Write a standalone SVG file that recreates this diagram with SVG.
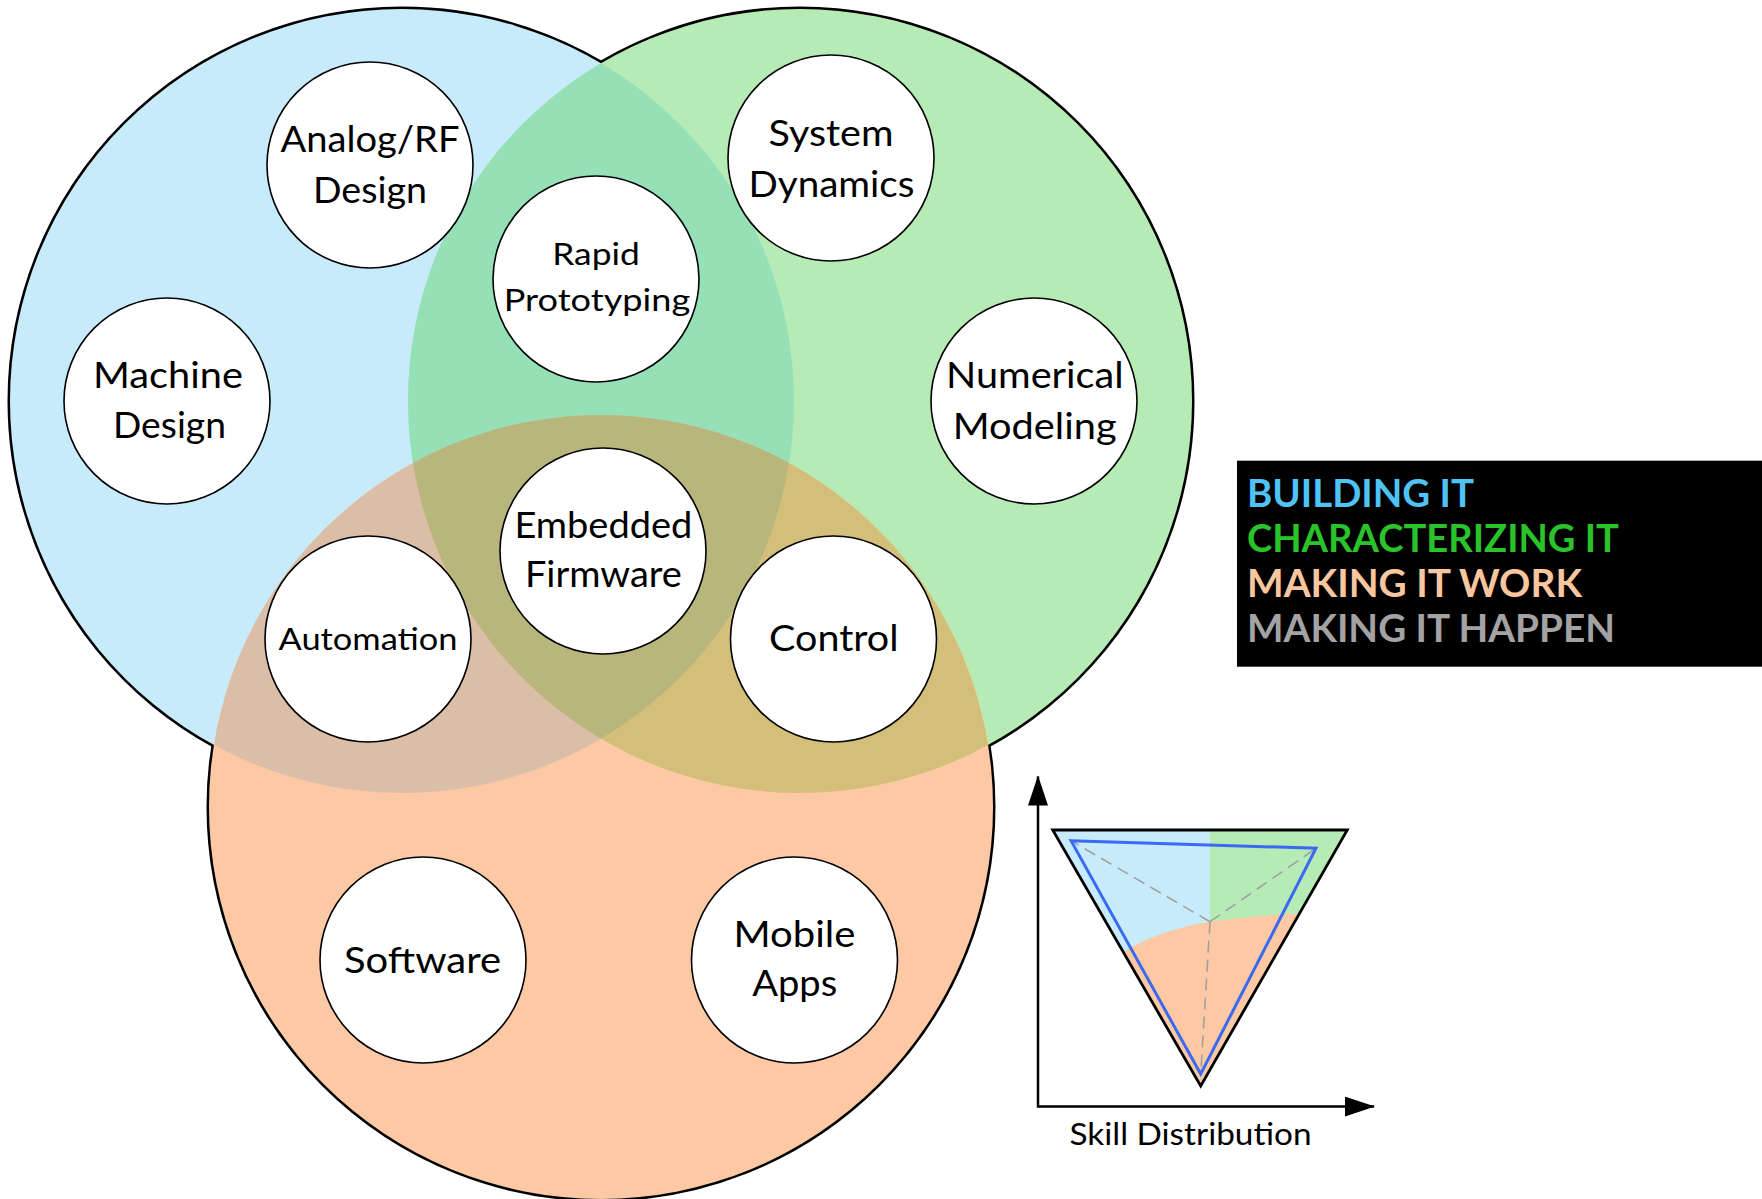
<svg xmlns="http://www.w3.org/2000/svg" width="1762" height="1199" viewBox="0 0 1762 1199">
  <style>
    .ring { fill: none; stroke: #000; stroke-width: 5; }
    .node circle { fill: #fff; stroke: #000; stroke-width: 1.6; }
    .lbl { font-family: Lato, "Open Sans", "Liberation Sans", sans-serif; fill: #000; text-anchor: middle; }
    .big { font-size: 37px; }
    .small { font-size: 31px; }
    .legend text { font-family: Lato, "Liberation Sans", sans-serif; font-weight: 700; font-size: 38.5px; }
    .axis { fill: none; stroke: #000; stroke-width: 2.5; }
    .guide { fill: none; stroke: #a0a0a0; stroke-width: 1.6; stroke-dasharray: 12 7; }
  </style>
  <defs>
    <clipPath id="clipB"><circle cx="402" cy="401" r="392"/></clipPath>
    <clipPath id="clipG"><circle cx="800" cy="401" r="392"/></clipPath>
    <clipPath id="clipBG" clip-path="url(#clipB)"><circle cx="800" cy="401" r="392"/></clipPath>
    <clipPath id="clipTri"><polygon points="1052.7,830 1347.3,830 1200.7,1086"/></clipPath>
    <marker id="arrow" markerUnits="userSpaceOnUse" markerWidth="30" markerHeight="20" refX="29" refY="10" orient="auto-start-reverse">
      <path d="M0,0 L30,10 L0,20 Z" fill="#000"/>
    </marker>
  </defs>

  <rect width="1762" height="1199" fill="#fff"/>

  <!-- three overlapping skill areas -->
  <g id="venn">
    <circle class="ring" cx="402" cy="401" r="392"/>
    <circle class="ring" cx="800" cy="401" r="392"/>
    <circle class="ring" cx="601" cy="807" r="392"/>
    <circle cx="402" cy="401" r="392" fill="#C8EBFB"/>
    <circle cx="800" cy="401" r="392" fill="#B7EBB6"/>
    <circle cx="601" cy="807" r="392" fill="#FCC9A4"/>
    <circle cx="800" cy="401" r="392" fill="#95E0B7" clip-path="url(#clipB)"/>
    <circle cx="601" cy="807" r="392" fill="#DBBEA7" clip-path="url(#clipB)"/>
    <circle cx="601" cy="807" r="392" fill="#D3BF7A" clip-path="url(#clipG)"/>
    <circle cx="601" cy="807" r="392" fill="#B8B67C" clip-path="url(#clipBG)"/>
  </g>

  <g id="analog-rf" class="node">
    <circle cx="370" cy="165" r="103"/>
    <text class="lbl big" x="370" y="152.3" textLength="179" lengthAdjust="spacingAndGlyphs">Analog/RF</text>
    <text class="lbl big" x="370" y="203.3" textLength="114" lengthAdjust="spacingAndGlyphs">Design</text>
  </g>
  <g id="rapid-prototyping" class="node">
    <circle cx="596" cy="279" r="103"/>
    <text class="lbl small" x="596" y="265" textLength="87.5" lengthAdjust="spacingAndGlyphs">Rapid</text>
    <text class="lbl small" x="597" y="311" textLength="186.5" lengthAdjust="spacingAndGlyphs">Prototyping</text>
  </g>
  <g id="system-dynamics" class="node">
    <circle cx="831" cy="158" r="103"/>
    <text class="lbl big" x="831" y="145.5" textLength="125" lengthAdjust="spacingAndGlyphs">System</text>
    <text class="lbl big" x="831.5" y="196.5" textLength="166" lengthAdjust="spacingAndGlyphs">Dynamics</text>
  </g>
  <g id="machine-design" class="node">
    <circle cx="167" cy="401" r="103"/>
    <text class="lbl big" x="168" y="388" textLength="150" lengthAdjust="spacingAndGlyphs">Machine</text>
    <text class="lbl big" x="169.5" y="437.5" textLength="113" lengthAdjust="spacingAndGlyphs">Design</text>
  </g>
  <g id="numerical-modeling" class="node">
    <circle cx="1034" cy="401" r="103"/>
    <text class="lbl big" x="1034.8" y="387.5" textLength="177.5" lengthAdjust="spacingAndGlyphs">Numerical</text>
    <text class="lbl big" x="1034.7" y="439" textLength="164" lengthAdjust="spacingAndGlyphs">Modeling</text>
  </g>
  <g id="embedded-firmware" class="node">
    <circle cx="603" cy="551" r="103"/>
    <text class="lbl big" x="603.4" y="538" textLength="178" lengthAdjust="spacingAndGlyphs">Embedded</text>
    <text class="lbl big" x="603.4" y="587" textLength="157" lengthAdjust="spacingAndGlyphs">Firmware</text>
  </g>
  <g id="automation" class="node">
    <circle cx="368" cy="639" r="103"/>
    <text class="lbl small" x="368" y="649.5" textLength="179" lengthAdjust="spacingAndGlyphs">Automation</text>
  </g>
  <g id="control" class="node">
    <circle cx="833.5" cy="639" r="103"/>
    <text class="lbl big" x="833.8" y="651" textLength="129.5" lengthAdjust="spacingAndGlyphs">Control</text>
  </g>
  <g id="software" class="node">
    <circle cx="423" cy="960" r="103"/>
    <text class="lbl big" x="422.5" y="972.5" textLength="157" lengthAdjust="spacingAndGlyphs">Software</text>
  </g>
  <g id="mobile-apps" class="node">
    <circle cx="794.5" cy="960" r="103"/>
    <text class="lbl big" x="794.4" y="947" textLength="122" lengthAdjust="spacingAndGlyphs">Mobile</text>
    <text class="lbl big" x="794.7" y="995.5" textLength="85" lengthAdjust="spacingAndGlyphs">Apps</text>
  </g>

  <!-- colour key -->
  <g id="legend" class="legend">
    <rect x="1237" y="460.7" width="525" height="206" fill="#000"/>
    <text x="1247" y="506.6" fill="#4FC3F5" textLength="227" lengthAdjust="spacingAndGlyphs">BUILDING IT</text>
    <text x="1247" y="551.6" fill="#2AC32A" textLength="372" lengthAdjust="spacingAndGlyphs">CHARACTERIZING IT</text>
    <text x="1247" y="597" fill="#F9C69E" textLength="335" lengthAdjust="spacingAndGlyphs">MAKING IT WORK</text>
    <text x="1247" y="642" fill="#A3A3A3" textLength="368" lengthAdjust="spacingAndGlyphs">MAKING IT HAPPEN</text>
  </g>

  <!-- skill distribution chart -->
  <g id="skill-chart">
    <polygon points="1052.7,830 1347.3,830 1200.7,1086" fill="#FCC9A4"/>
    <g clip-path="url(#clipTri)">
      <path d="M1040,820 L1210,820 L1210,921.7 Q1162,929 1123,951.7 L1100,960 Z" fill="#C8EBFB"/>
      <path d="M1210,820 L1360,820 L1360,912 L1299.8,913.3 Q1260,915 1210,921.7 Z" fill="#B7EBB6"/>
    </g>
    <path class="guide" d="M1210,921.7 L1071,840.7 M1210,921.7 L1316,848.3 M1210,921.7 L1200.7,1074"/>
    <polygon points="1071,840.7 1316,848.3 1200.7,1074" fill="none" stroke="#3A6AF5" stroke-width="3" stroke-linejoin="miter"/>
    <polygon points="1052.7,830 1347.3,830 1200.7,1086" fill="none" stroke="#000" stroke-width="2.8"/>
    <path class="axis" d="M1038,776.5 L1038,1106.6 L1374,1106.6" marker-start="url(#arrow)" marker-end="url(#arrow)"/>
    <text class="lbl" x="1190.5" y="1145" font-size="30" textLength="242" lengthAdjust="spacingAndGlyphs">Skill Distribution</text>
  </g>
</svg>
